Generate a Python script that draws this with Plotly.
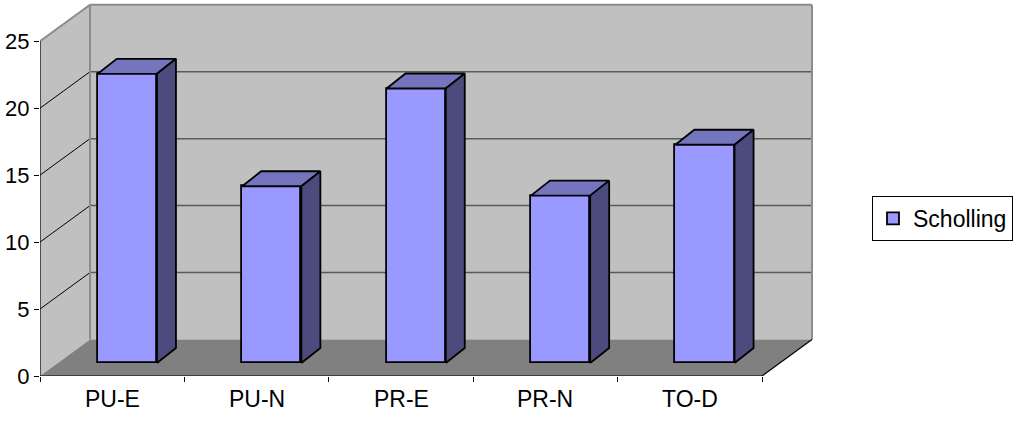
import plotly.graph_objects as go

categories = ["PU-E", "PU-N", "PR-E", "PR-N", "TO-D"]
values = [21.6, 13.2, 20.5, 12.5, 16.3]
series_name = "Scholling"
y_ticks = [0, 5, 10, 15, 20, 25]
y_max = 25

# layout geometry (data units)
W, H = 1015, 436
ML, MB = 40, 60
PX = 144.4          # px per category
PY = 13.39          # px per value unit
DX, DY = 50 / PX, 36.5 / PY      # wall depth offset
BX, BY = 19 / PX, 15 / PY        # bar depth
BASE = 13 / PY                    # bar base offset (bar sits mid-depth)
BL, BR = 0.40, 0.81               # bar front face left/right within category
n = len(categories)

FONT = "Arial, Liberation Sans, sans-serif"
FRONT, TOP, SIDE = "#9999FF", "#7575BE", "#4B4B7D"

shapes = []
def poly(pts, fill, line_color=None, lw=0):
    path = "M " + " L ".join(f"{x},{y}" for x, y in pts) + " Z"
    shapes.append(dict(type="path", path=path, xref="x", yref="y", layer="below",
                       fillcolor=fill, line=dict(color=line_color or fill, width=lw)))
def line(x0, y0, x1, y1, color, lw):
    shapes.append(dict(type="line", x0=x0, y0=y0, x1=x1, y1=y1, xref="x", yref="y",
                       layer="below", line=dict(color=color, width=lw)))

# walls and floor
poly([(0, 0), (DX, DY), (DX, y_max + DY), (0, y_max)], "#C0C0C0")
poly([(DX, DY), (n + DX, DY), (n + DX, y_max + DY), (DX, y_max + DY)], "#C0C0C0")
poly([(0, 0), (n, 0), (n + DX, DY), (DX, DY)], "#808080")
# gridlines
for v in y_ticks[1:-1]:
    line(DX, v + DY, n + DX, v + DY, "#5a5a5a", 1.5)
    line(0, v, DX, v + DY, "black", 1)
# wall edges
line(DX, DY, DX, y_max + DY, "#8c8c8c", 2)
line(DX, y_max + DY, n + DX, y_max + DY, "#8c8c8c", 2)
line(n + DX, DY, n + DX, y_max + DY, "#8c8c8c", 2)
line(0, y_max, DX, y_max + DY, "#8c8c8c", 2)
line(n, 0, n + DX, DY, "black", 1.2)
# axes lines
line(0, 0, 0, y_max, "black", 1.2)
line(0, 0, n, 0, "black", 1.2)

fig = go.Figure()
fig.add_trace(go.Bar(
    x=[i + (BL + BR) / 2 for i in range(n)], y=values, base=[BASE] * n,
    width=[BR - BL] * n, name=series_name, showlegend=True,
    marker=dict(color=FRONT, line=dict(color="black", width=1.8)),
))
for i, v in enumerate(values):
    xl, xr, b = i + BL, i + BR, BASE
    top = [(xl, b + v), (xr, b + v), (xr + BX, b + v + BY), (xl + BX, b + v + BY), (xl, b + v)]
    side = [(xr, b), (xr + BX, b + BY), (xr + BX, b + v + BY), (xr, b + v), (xr, b)]
    for pts, col in ((top, TOP), (side, SIDE)):
        fig.add_trace(go.Scatter(
            x=[p[0] for p in pts], y=[p[1] for p in pts], mode="lines", fill="toself",
            fillcolor=col, line=dict(color="black", width=1.8), showlegend=False,
            hoverinfo="skip"))

annotations = [dict(x=i + 0.5, y=0, xref="x", yref="y", text=c, showarrow=False,
                    yshift=-23, yanchor="middle", font=dict(family=FONT, size=23, color="black"))
               for i, c in enumerate(categories)]

plot_w = W - ML
plot_h = H - MB
fig.update_layout(
    template="none",
    width=W, height=H,
    margin=dict(l=ML, r=0, t=0, b=MB, pad=0),
    paper_bgcolor="white", plot_bgcolor="white",
    shapes=shapes, annotations=annotations,
    showlegend=True,
    legend=dict(x=(872 - ML) / plot_w, y=(H - MB - 196) / plot_h, xanchor="left", yanchor="top",
                bordercolor="black", borderwidth=1, bgcolor="white",
                font=dict(family=FONT, size=23, color="black"), itemwidth=30,
                tracegroupgap=0),
    xaxis=dict(range=[0, plot_w / PX], showgrid=False, zeroline=False, showline=False,
               tickvals=list(range(n + 1)), ticktext=[""] * (n + 1), ticks="outside",
               ticklen=5, tickcolor="black", tickwidth=1.2, automargin=False, fixedrange=True),
    yaxis=dict(range=[0, plot_h / PY], showgrid=False, zeroline=False, showline=False,
               tickvals=y_ticks, ticks="outside", ticklen=5, tickcolor="black", tickwidth=1.2,
               tickfont=dict(family=FONT, size=22, color="black"), automargin=False,
               fixedrange=True),
    bargap=0,
)
fig.write_html("out.html")
